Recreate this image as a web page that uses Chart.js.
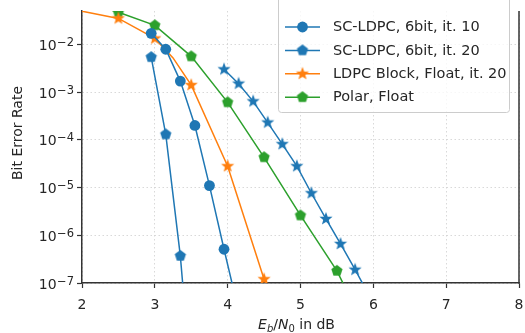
<!DOCTYPE html>
<html>
<head>
<meta charset="utf-8">
<title>BER curves</title>
<script src="https://cdn.jsdelivr.net/npm/chart.js@4.4.1/dist/chart.umd.min.js"></script>
<style>
    body { margin: 0; background: #fff; }
    #ber { display: block; }
</style>
</head>
<body>
<canvas id="ber" width="525" height="333"></canvas>
<script>
// Eb/N0 in dB on x, bit error rate on y
const xTicks = [2, 3, 4, 5, 6, 7, 8];
const yTicks = [1e-7, 1e-6, 1e-5, 1e-4, 1e-3, 1e-2];

const scIt10X = [2.95, 3.15, 3.35, 3.55, 3.75, 3.95, 4.15];
const scIt10Y = [1.7e-2, 7.9e-3, 1.7e-3, 2.0e-4, 1.1e-5, 5.1e-7, 2.6e-8];

const scIt20X = [2.95, 3.15, 3.35, 3.55];
const scIt20Y = [5.4e-3, 1.3e-4, 3.7e-7, 1e-10];

const scStarX = [3.95, 4.15, 4.35, 4.55, 4.75, 4.95, 5.15, 5.35, 5.55, 5.75, 5.95];
const scStarY = [3.0e-3, 1.5e-3, 6.4e-4, 2.3e-4, 8.1e-5, 2.8e-5, 7.6e-6, 2.2e-6, 6.6e-7, 1.9e-7, 5.2e-8];

const ldpcX = [1.5, 2.5, 3.0, 3.25, 3.5, 4.0, 4.5];
const ldpcY = [7e-2, 3.5e-2, 1.33e-2, 5.2e-3, 1.4e-3, 2.8e-5, 1.2e-7];
const ldpcMarked = [0, 1, 1, 0, 1, 1, 1];

const polarX = [2.0, 2.5, 3.0, 3.5, 4.0, 4.5, 5.0, 5.5, 6.0];
const polarY = [8e-2, 4.7e-2, 2.5e-2, 5.6e-3, 6.1e-4, 4.3e-5, 2.6e-6, 1.8e-7, 5e-9];

const legendNames = ['SC-LDPC, 6bit, it. 10', 'SC-LDPC, 6bit, it. 20', 'LDPC Block, Float, it. 20', 'Polar, Float'];

const BLUE = '#1f77b4', ORANGE = '#ff7f0e', GREEN = '#2ca02c';
const FONT = '"DejaVu Sans", sans-serif';
const INK = '#262626';

function makeMarker(shape, color, r) {
    const c = document.createElement('canvas');
    const s = Math.ceil(2 * r + 2);
    c.width = s; c.height = s;
    const ctx = c.getContext('2d');
    ctx.translate(s / 2, s / 2);
    ctx.beginPath();
    const n = shape === 'star' ? 10 : 5;
    for (let i = 0; i < n; i++) {
        const a = -Math.PI / 2 + i * 2 * Math.PI / n;
        const rr = (shape === 'star' && i % 2) ? r * 0.42 : r;
        ctx.lineTo(rr * Math.cos(a), rr * Math.sin(a));
    }
    ctx.closePath();
    ctx.fillStyle = color;
    ctx.fill();
    return c;
}

const bluePent = makeMarker('pent', BLUE, 5.9);
const blueStar = makeMarker('star', BLUE, 6.9);
const orangeStar = makeMarker('star', ORANGE, 6.9);
const greenPent = makeMarker('pent', GREEN, 5.9);

const pts = (xs, ys) => xs.map((x, i) => ({ x: x, y: ys[i] }));

function line(label, xs, ys, color, style, radius) {
    return {
        label: label,
        data: pts(xs, ys),
        borderColor: color,
        backgroundColor: color,
        borderWidth: 1.5,
        pointStyle: style,
        pointRadius: radius,
        pointBorderWidth: 0,
        tension: 0
    };
}

const legendMarks = [
    { color: BLUE, style: 'circle' },
    { color: BLUE, style: bluePent },
    { color: ORANGE, style: orangeStar },
    { color: GREEN, style: greenPent }
];

const extras = {
    id: 'extras',
    afterDraw(chart) {
        const ctx = chart.ctx;
        const a = chart.chartArea;
        const ys = chart.scales.y;

        // right spine
        ctx.save();
        ctx.strokeStyle = '#333';
        ctx.lineWidth = 1.5;
        ctx.beginPath();
        ctx.moveTo(a.right, a.top);
        ctx.lineTo(a.right, a.bottom + 0.75);
        ctx.stroke();

        // y tick labels 10^-n
        ctx.fillStyle = INK;
        ctx.textBaseline = 'alphabetic';
        ctx.textAlign = 'right';
        yTicks.forEach(v => {
            const py = ys.getPixelForValue(v);
            const sup = '\u2212' + (-Math.round(Math.log10(v)));
            ctx.font = '11.5px ' + FONT;
            const w = ctx.measureText(sup).width;
            ctx.fillText(sup, 74, py + 1.5);
            ctx.font = '14px ' + FONT;
            ctx.fillText('10', 74 - w - 0.5, py + 5.5);
        });

        // y title
        ctx.save();
        ctx.translate(18, 133);
        ctx.rotate(-Math.PI / 2);
        ctx.textAlign = 'center';
        ctx.textBaseline = 'middle';
        ctx.font = '14px ' + FONT;
        ctx.fillText('Bit Error Rate', 0, 0);
        ctx.restore();

        // x title: E_b / N_0 in dB
        const parts = [
            { t: 'E', f: 'italic 14px ', dy: 0 },
            { t: 'b', f: 'italic 10px ', dy: 3 },
            { t: '/', f: '14px ', dy: 0 },
            { t: 'N', f: 'italic 14px ', dy: 0 },
            { t: '0', f: '10px ', dy: 3 },
            { t: ' in dB', f: '14px ', dy: 0 }
        ];
        let total = 0;
        parts.forEach(p => { ctx.font = p.f + FONT; p.w = ctx.measureText(p.t).width; total += p.w; });
        let x = (a.left + a.right) / 2 - 4 - total / 2;
        ctx.textAlign = 'left';
        parts.forEach(p => {
            ctx.font = p.f + FONT;
            ctx.fillText(p.t, x, 329 + p.dy);
            x += p.w;
        });

        // legend box
        ctx.beginPath();
        ctx.roundRect(278.5, -4.5, 231, 117, 3);
        ctx.fillStyle = 'rgba(255,255,255,0.8)';
        ctx.fill();
        ctx.strokeStyle = '#cccccc';
        ctx.lineWidth = 1;
        ctx.stroke();

        legendNames.forEach((name, i) => {
            const m = legendMarks[i];
            const cy = 27 + i * 23.4;
            ctx.strokeStyle = m.color;
            ctx.lineWidth = 1.5;
            ctx.beginPath();
            ctx.moveTo(285, cy);
            ctx.lineTo(320, cy);
            ctx.stroke();
            if (m.style === 'circle') {
                ctx.fillStyle = m.color;
                ctx.beginPath();
                ctx.arc(302.5, cy, 5.4, 0, Math.PI * 2);
                ctx.fill();
            } else {
                ctx.drawImage(m.style, 302.5 - m.style.width / 2, cy - m.style.height / 2);
            }
            ctx.fillStyle = INK;
            ctx.font = '14.5px ' + FONT;
            ctx.textBaseline = 'middle';
            ctx.fillText(name, 333, cy + 0.5);
        });
        ctx.restore();
    }
};

const gridOpts = { color: '#cfcfcf', lineWidth: 0.8, tickColor: '#333', tickLength: 5, tickWidth: 1.2, tickBorderDash: [] };
const borderOpts = { color: '#333', width: 1.5, dash: [1.5, 2.5] };

new Chart(document.getElementById('ber'), {
    type: 'line',
    data: {
        datasets: [
            line(legendNames[0], scIt10X, scIt10Y, BLUE, 'circle', 5.4),
            line(legendNames[1], scIt20X, scIt20Y, BLUE, bluePent, 5),
            line('SC-LDPC star', scStarX, scStarY, BLUE, blueStar, 5),
            line(legendNames[2], ldpcX, ldpcY, ORANGE, orangeStar, ldpcMarked.map(m => m ? 5 : 0)),
            line(legendNames[3], polarX, polarY, GREEN, greenPent, 5)
        ]
    },
    options: {
        responsive: false,
        animation: false,
        devicePixelRatio: 1,
        layout: { padding: { top: 11, right: 6, left: 0, bottom: 0 } },
        plugins: { legend: { display: false }, tooltip: { enabled: false } },
        scales: {
            x: {
                type: 'linear',
                min: 2, max: 8,
                afterBuildTicks: (s) => { s.ticks = xTicks.map(v => ({ value: v })); },
                afterFit: (s) => { s.height = 50; s.paddingLeft = 0; s.paddingRight = 0; },
                ticks: { font: { family: FONT, size: 14 }, color: INK, padding: 9 },
                grid: gridOpts,
                border: borderOpts
            },
            y: {
                type: 'logarithmic',
                min: 1e-7, max: 0.05,
                afterBuildTicks: (s) => { s.ticks = yTicks.map(v => ({ value: v })); },
                afterFit: (s) => { s.width = 82; s.paddingTop = 0; s.paddingBottom = 0; },
                ticks: { display: false },
                grid: gridOpts,
                border: borderOpts
            }
        }
    },
    plugins: [extras]
});
</script>
</body>
</html>
